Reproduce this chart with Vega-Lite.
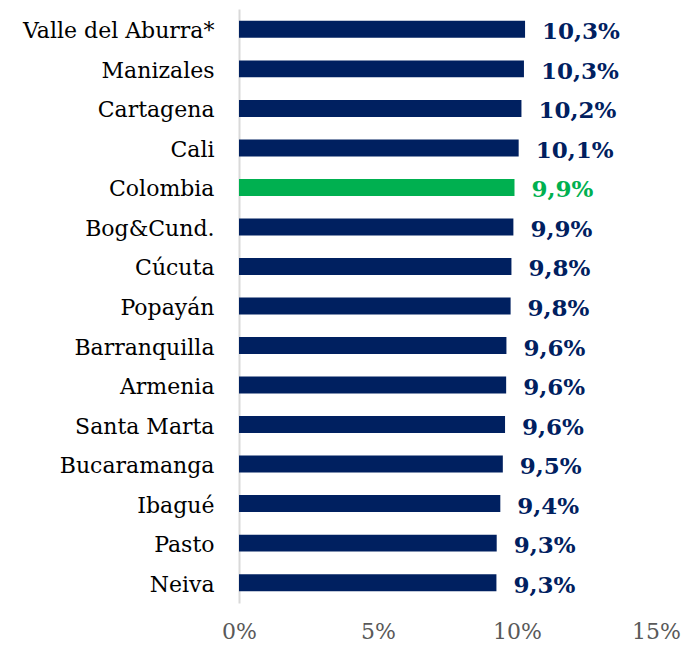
{
  "$schema": "https://vega.github.io/schema/vega-lite/v6.json",
  "autosize": {"type": "none"},
  "width": 417,
  "height": 594,
  "padding": {"left": 239, "top": 9, "right": 28, "bottom": 46},
  "background": "white",
  "config": {
    "view": {"stroke": null},
    "locale": {"number": {"decimal": ",", "thousands": ".", "grouping": [3], "currency": ["$", ""]}}
  },
  "data": {
    "values": [
      {"ciudad": "Valle del Aburra*", "valor": 0.1029, "tipo": "ciudad"},
      {"ciudad": "Manizales", "valor": 0.1025, "tipo": "ciudad"},
      {"ciudad": "Cartagena", "valor": 0.1016, "tipo": "ciudad"},
      {"ciudad": "Cali", "valor": 0.1006, "tipo": "ciudad"},
      {"ciudad": "Colombia", "valor": 0.0991, "tipo": "pais"},
      {"ciudad": "Bog&Cund.", "valor": 0.0987, "tipo": "ciudad"},
      {"ciudad": "Cúcuta", "valor": 0.0980, "tipo": "ciudad"},
      {"ciudad": "Popayán", "valor": 0.0977, "tipo": "ciudad"},
      {"ciudad": "Barranquilla", "valor": 0.0962, "tipo": "ciudad"},
      {"ciudad": "Armenia", "valor": 0.0961, "tipo": "ciudad"},
      {"ciudad": "Santa Marta", "valor": 0.0957, "tipo": "ciudad"},
      {"ciudad": "Bucaramanga", "valor": 0.0949, "tipo": "ciudad"},
      {"ciudad": "Ibagué", "valor": 0.0940, "tipo": "ciudad"},
      {"ciudad": "Pasto", "valor": 0.0927, "tipo": "ciudad"},
      {"ciudad": "Neiva", "valor": 0.0926, "tipo": "ciudad"}
    ]
  },
  "encoding": {
    "y": {
      "field": "ciudad",
      "type": "nominal",
      "sort": null,
      "scale": {"paddingInner": 0.57, "paddingOuter": 0.3},
      "axis": {
        "title": null,
        "ticks": false,
        "domain": true,
        "domainColor": "#d9d9d9",
        "domainWidth": 2,
        "labelFont": "DejaVu Serif",
        "labelFontSize": 22,
        "labelColor": "#000000",
        "labelPadding": 25,
        "labelOffset": 2,
        "labelLimit": 300
      }
    },
    "x": {
      "field": "valor",
      "type": "quantitative",
      "scale": {"domain": [0, 0.15], "nice": false},
      "axis": {
        "title": null,
        "values": [0, 0.05, 0.1, 0.15],
        "format": ".0%",
        "grid": false,
        "ticks": false,
        "domain": false,
        "labelFlush": false,
        "labelFont": "DejaVu Serif",
        "labelFontSize": 22,
        "labelColor": "#595959",
        "labelPadding": 18
      }
    }
  },
  "layer": [
    {
      "mark": {"type": "bar"},
      "encoding": {
        "color": {
          "field": "tipo",
          "type": "nominal",
          "scale": {"domain": ["ciudad", "pais"], "range": ["#002060", "#00b050"]},
          "legend": null
        }
      }
    },
    {
      "mark": {"type": "text", "align": "left", "baseline": "middle", "dx": 17, "dy": 3, "font": "DejaVu Serif", "fontWeight": "bold", "fontSize": 23},
      "encoding": {
        "text": {"field": "valor", "type": "quantitative", "format": ".1%"},
        "color": {
          "field": "tipo",
          "type": "nominal",
          "scale": {"domain": ["ciudad", "pais"], "range": ["#002060", "#00b050"]},
          "legend": null
        }
      }
    }
  ]
}
